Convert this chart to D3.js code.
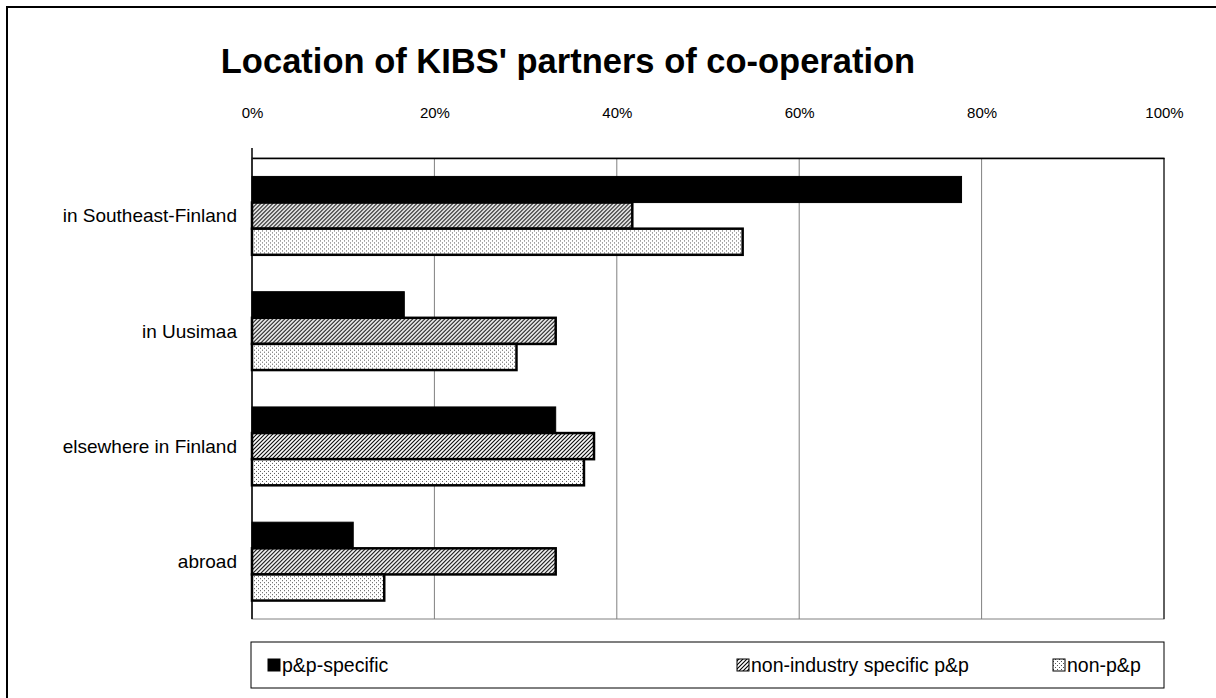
<!DOCTYPE html>
<html>
<head>
<meta charset="utf-8">
<script src="https://cdn.jsdelivr.net/npm/d3@7"></script>
<style>
  body { margin: 0; background: #fff; }
  svg { display: block; font-family: Arial, "Liberation Sans", sans-serif; }
</style>
</head>
<body>
<div id="chart"></div>
<script>
// chart data
const categories = ["in Southeast-Finland", "in Uusimaa", "elsewhere in Finland", "abroad"];
const seriesNames = ["p&p-specific", "non-industry specific p&p", "non-p&p"];
const ppSpecific = [77.8, 16.7, 33.3, 11.1];
const nonIndustry = [41.7, 33.3, 37.5, 33.3];
const nonPP = [53.8, 29.0, 36.4, 14.5];
const xTicks = [0, 20, 40, 60, 80, 100];

const seriesValues = [ppSpecific, nonIndustry, nonPP];
const fills = ["#000", "url(#hatch)", "url(#dots)"];

const W = 1216, H = 698;
const plot = { left: 252, right: 1164, top: 158, bottom: 619 };

const svg = d3.select("#chart").append("svg")
  .attr("width", W)
  .attr("height", H);

// patterns for the bars
const defs = svg.append("defs");
const hatch = defs.append("pattern")
  .attr("id", "hatch")
  .attr("patternUnits", "userSpaceOnUse")
  .attr("width", 4).attr("height", 4);
hatch.append("rect").attr("width", 4).attr("height", 4).attr("fill", "#fff");
hatch.append("path")
  .attr("d", "M-1,1 l2,-2 M0,4 l4,-4 M3,5 l2,-2")
  .attr("stroke", "#000").attr("stroke-width", 1.1);

const dots = defs.append("pattern")
  .attr("id", "dots")
  .attr("patternUnits", "userSpaceOnUse")
  .attr("width", 4).attr("height", 4);
dots.append("rect").attr("width", 4).attr("height", 4).attr("fill", "#fff");
dots.append("rect").attr("x", 0).attr("y", 0).attr("width", 1).attr("height", 1).attr("fill", "#555");
dots.append("rect").attr("x", 2).attr("y", 2).attr("width", 1).attr("height", 1).attr("fill", "#555");

// outer frame
svg.append("rect")
  .attr("x", 7).attr("y", 7)
  .attr("width", W + 20).attr("height", H + 20)
  .attr("fill", "none")
  .attr("stroke", "#000")
  .attr("stroke-width", 2);

// title
svg.append("text")
  .attr("x", 568).attr("y", 73)
  .attr("text-anchor", "middle")
  .attr("font-size", "34.5px")
  .attr("font-weight", "bold")
  .text("Location of KIBS' partners of co-operation");

// scales
const x = d3.scaleLinear().domain([0, 100]).range([plot.left, plot.right]);
const y = d3.scaleBand().domain(categories).range([plot.top, plot.bottom]).paddingInner(0.32).paddingOuter(0.16);
const ySub = d3.scaleBand().domain(d3.range(seriesNames.length)).range([0, y.bandwidth()]);

// gridlines
svg.append("g")
  .selectAll("line")
  .data(xTicks.slice(1, -1))
  .join("line")
    .attr("x1", d => x(d)).attr("x2", d => x(d))
    .attr("y1", plot.top).attr("y2", plot.bottom)
    .attr("stroke", "#808080")
    .attr("stroke-width", 1);

// plot border
svg.append("rect")
  .attr("x", plot.left).attr("y", plot.top)
  .attr("width", plot.right - plot.left)
  .attr("height", plot.bottom - plot.top)
  .attr("fill", "none")
  .attr("stroke", "#808080")
  .attr("stroke-width", 1);
svg.append("line")
  .attr("x1", plot.right).attr("x2", plot.right)
  .attr("y1", plot.top).attr("y2", plot.bottom)
  .attr("stroke", "#000");

// top axis
const xAxis = svg.append("g")
  .attr("transform", `translate(0,${plot.top})`)
  .call(d3.axisTop(x).tickValues(xTicks).tickSize(0).tickPadding(40).tickFormat(d => d + "%"));
xAxis.select(".domain").attr("stroke", "#000").attr("stroke-width", 1.5);
xAxis.selectAll("text")
  .attr("font-size", "15px")
  .attr("font-family", "Arial, 'Liberation Sans', sans-serif")
  .attr("fill", "#000");

// bars
const groups = svg.append("g")
  .selectAll("g")
  .data(categories)
  .join("g")
    .attr("transform", d => `translate(0,${y(d)})`);

groups.selectAll("rect")
  .data((c, i) => seriesValues.map((vals, s) => ({ s, v: vals[i] })))
  .join("rect")
    .attr("x", x(0))
    .attr("y", d => ySub(d.s))
    .attr("width", d => x(d.v) - x(0))
    .attr("height", ySub.bandwidth())
    .attr("fill", d => fills[d.s])
    .attr("stroke", "#000")
    .attr("stroke-width", d => d.s === 0 ? 1 : 2.5);

// left axis line
svg.append("line")
  .attr("x1", plot.left).attr("x2", plot.left)
  .attr("y1", plot.top - 10).attr("y2", plot.bottom)
  .attr("stroke", "#000")
  .attr("stroke-width", 1.5);

// category labels
svg.append("g")
  .selectAll("text")
  .data(categories)
  .join("text")
    .attr("x", 237)
    .attr("y", d => y(d) + y.bandwidth() / 2)
    .attr("dy", "0.35em")
    .attr("text-anchor", "end")
    .attr("font-size", "19px")
    .text(d => d);

// legend
const legend = svg.append("g");
legend.append("rect")
  .attr("x", 251).attr("y", 642)
  .attr("width", 913).attr("height", 46)
  .attr("fill", "#fff")
  .attr("stroke", "#000")
  .attr("stroke-width", 1);

const legendX = [268, 737, 1053];
const items = legend.selectAll("g.item")
  .data(seriesNames)
  .join("g")
    .attr("class", "item")
    .attr("transform", (d, i) => `translate(${legendX[i]},665)`);
items.append("rect")
  .attr("x", 0).attr("y", -6)
  .attr("width", 12).attr("height", 12)
  .attr("fill", (d, i) => fills[i])
  .attr("stroke", "#000")
  .attr("stroke-width", 1);
items.append("text")
  .attr("x", 14)
  .attr("dy", "0.35em")
  .attr("font-size", "19.5px")
  .text(d => d);
</script>
</body>
</html>
